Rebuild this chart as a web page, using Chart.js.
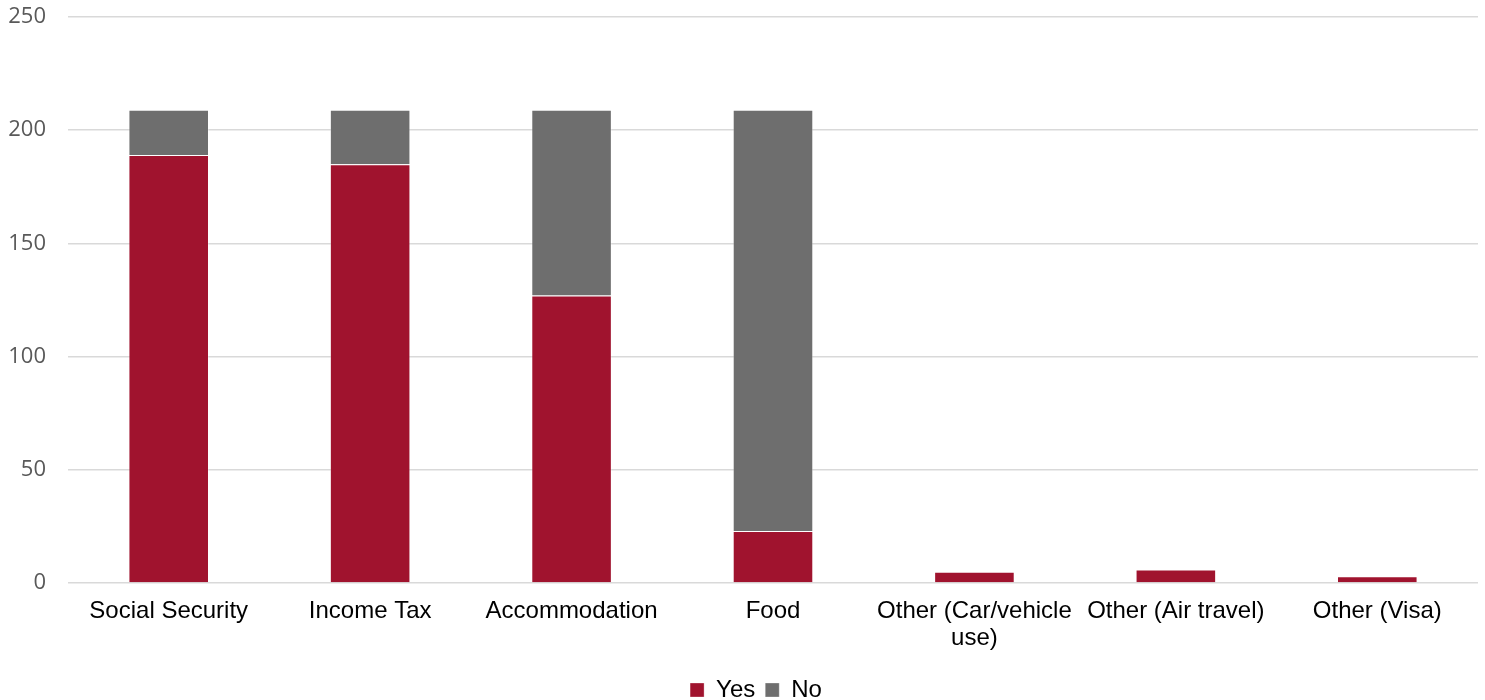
<!DOCTYPE html>
<html>
<head>
<meta charset="utf-8">
<script src="https://cdn.jsdelivr.net/npm/chart.js@4/dist/chart.umd.min.js"></script>
<style>
  html, body { margin: 0; padding: 0; background: #ffffff; }
  #wrap { width: 1485px; height: 700px; }
</style>
</head>
<body>
<div id="wrap"><canvas id="c" width="1485" height="700"></canvas></div>
<script>
// Categories and series counts
const categories = [
  "Social Security",
  "Income Tax",
  "Accommodation",
  "Food",
  ["Other (Car/vehicle", "use)"],
  "Other (Air travel)",
  "Other (Visa)"
];
const yesValues = [189, 185, 127, 23, 5, 6, 3];
const noValues  = [20, 24, 82, 186, 0, 0, 0];
const yTicks = [0, 50, 100, 150, 200, 250];

// Nudge the legend a little to the right of the canvas centre
const legendShift = {
  id: 'legendShift',
  afterLayout(chart) {
    const lg = chart.legend;
    if (lg) { lg.left += 17; lg.right += 17; }
  }
};

const ctx = document.getElementById('c').getContext('2d');
new Chart(ctx, {
  type: 'bar',
  data: {
    labels: categories,
    datasets: [
      {
        label: 'Yes',
        data: yesValues,
        backgroundColor: '#A0132E',
        borderColor: 'rgba(255,255,255,0.3)',
        borderWidth: 1,
        categoryPercentage: 1.0,
        barPercentage: 0.4
      },
      {
        label: 'No',
        data: noValues,
        backgroundColor: '#6E6E6E',
        borderColor: 'rgba(255,255,255,0.3)',
        borderWidth: 1,
        categoryPercentage: 1.0,
        barPercentage: 0.4
      }
    ]
  },
  plugins: [legendShift],
  options: {
    responsive: false,
    animation: false,
    layout: { padding: { top: 17, right: 7, left: 0, bottom: -12 } },
    scales: {
      x: {
        stacked: true,
        grid: { display: false },
        border: { display: false },
        afterFit: (axis) => { axis.height = 85; },
        ticks: {
          color: '#000000',
          font: { family: 'Liberation Sans, Arial, sans-serif', size: 24, lineHeight: 1.13 },
          padding: 7,
          maxRotation: 0,
          autoSkip: false
        }
      },
      y: {
        stacked: true,
        min: yTicks[0],
        max: yTicks[yTicks.length - 1],
        afterBuildTicks: (axis) => { axis.ticks = yTicks.map(v => ({ value: v })); },
        afterFit: (axis) => { axis.width = 68; },
        grid: {
          color: '#D9D9D9',
          lineWidth: 1.5,
          drawTicks: true,
          tickLength: 22,
          tickColor: 'rgba(0,0,0,0)'
        },
        border: { display: false },
        ticks: {
          color: '#595959',
          font: { family: 'Open Sans, sans-serif', size: 22 },
          padding: 0
        }
      }
    },
    plugins: {
      legend: {
        position: 'bottom',
        labels: {
          color: '#000000',
          font: { family: 'Liberation Sans, Arial, sans-serif', size: 24 },
          boxWidth: 14,
          boxHeight: 14,
          padding: 10
        }
      },
      tooltip: { enabled: false }
    }
  }
});
</script>
</body>
</html>
